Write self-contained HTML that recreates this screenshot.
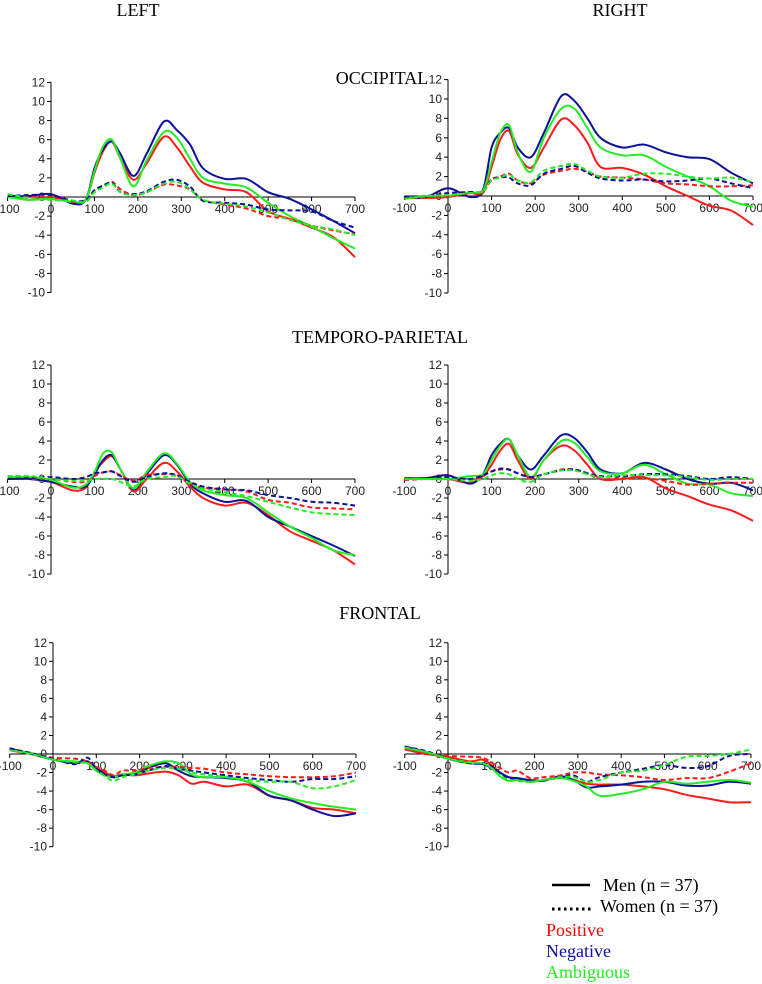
<!DOCTYPE html>
<html><head><meta charset="utf-8"><style>
body{margin:0;background:#fff;}
svg{display:block;}
.t{font-family:"Liberation Serif",serif;font-size:18px;fill:#000;}
.ax{font-family:"Liberation Sans",sans-serif;font-size:12px;fill:#222;}
</style></head><body>
<svg id="c" width="762" height="984" viewBox="0 0 762 984">
<text class="t" x="138" y="16" text-anchor="middle">LEFT</text>
<text class="t" x="620" y="16" text-anchor="middle">RIGHT</text>
<text class="t" x="382" y="84" text-anchor="middle">OCCIPITAL</text>
<text class="t" x="380" y="343" text-anchor="middle">TEMPORO-PARIETAL</text>
<text class="t" x="380" y="619" text-anchor="middle">FRONTAL</text>
<g>
<line x1="552" y1="885" x2="590" y2="885" stroke="#000" stroke-width="2.5"/>
<text class="t" x="603" y="891">Men (n = 37)</text>
<line x1="552" y1="909" x2="594" y2="909" stroke="#000" stroke-width="3" stroke-dasharray="2.5,3.5"/>
<text class="t" x="600" y="912">Women (n = 37)</text>
<text class="t" x="546" y="936" style="fill:#ff0000">Positive</text>
<text class="t" x="546" y="957" style="fill:#0b1199">Negative</text>
<text class="t" x="546" y="978" style="fill:#22ee22">Ambiguous</text>
</g>
</svg>
<script>
const times=[-100,-50,0,50,80,100,120,140,160,190,220,260,290,320,350,400,450,500,550,600,650,700];
const xTicks=[-100,0,100,200,300,400,500,600,700];
const yTicks=[12,10,8,6,4,2,0,-2,-4,-6,-8,-10];
// Occipital left
const olMenPos=[0.1,-0.3,0,-0.6,-0.3,2.5,4.8,5.8,4,1.8,3.5,6.3,5.2,3.2,1.5,0.8,0.5,-1.5,-2.3,-3.2,-4.2,-6.3];
const olMenNeg=[0.1,0.1,0.3,-0.7,-0.3,3,5,5.8,4.5,2.2,4.5,7.9,7,5.5,3,1.9,1.9,0.5,-0.2,-1.3,-2.5,-3.8];
const olMenAmb=[0,-0.3,-0.2,-0.5,-0.3,2.7,5.3,6,4,1.1,3.8,6.8,6.2,4,2,1.4,1,-0.6,-2,-3.1,-4.3,-5.4];
const olWomPos=[0.2,0,0,-0.5,-0.4,0.7,1.1,1.6,0.8,0.2,0.5,1.3,1.2,0.8,-0.3,-0.8,-1.2,-2,-2.3,-3,-3.5,-3.9];
const olWomNeg=[0.1,0.2,0.2,-0.4,-0.3,0.7,1.2,1.5,0.5,0.3,0.6,1.6,1.8,1.1,-0.4,-0.6,-0.8,-1.3,-1.4,-1.5,-2.5,-3.2];
const olWomAmb=[0.3,-0.1,-0.3,-0.4,-0.5,0.5,1,1.4,0.5,0.2,0.5,1.4,1.6,0.8,-0.3,-0.7,-1,-1.6,-2.4,-3,-3.4,-4];
// Occipital right
const orMenPos=[-0.2,-0.2,-0.1,0.3,0.3,3,5.8,6.7,4.3,2.9,5,7.9,7.3,5.5,3,2.9,2.2,1,0,-1,-1.5,-3];
const orMenNeg=[-0.2,-0.1,0.8,-0.1,0.6,5,6.5,7,5,4,6.5,10.3,9.8,8,6,5,5.3,4.5,4,3.8,2.4,1.3];
const orMenAmb=[-0.3,0,0,0.4,0.5,3.5,6.5,7.3,4.5,2.5,6,9,9,7,5,4.2,4.2,3,2,1,-0.5,-1.1];
const orWomPos=[-0.2,-0.2,0,0.3,0.4,1.7,2,2.3,1.6,1.3,2.2,2.6,2.8,2.5,2,1.9,1.7,1.3,1.2,1,1,1.1];
const orWomNeg=[-0.1,0,0.3,0.4,0.5,1.7,1.9,1.9,1.3,1.1,2.3,2.8,3.1,2.4,1.8,1.6,1.7,1.5,1.6,1.8,1.3,0.8];
const orWomAmb=[-0.3,0,0.1,0.3,0.5,1.6,1.9,2.2,1.6,1.4,2.6,3.1,3.3,2.6,2,1.9,2.3,2.3,2,1.8,1.9,1.4];
// Temporo-parietal left
const tlMenPos=[0,0,-0.3,-1.2,-0.9,0.7,1.8,2.4,1,-1.3,0,1.7,0.8,-0.8,-2,-2.8,-2.5,-3.8,-5.5,-6.5,-7.5,-9];
const tlMenNeg=[0,0,-0.3,-0.8,-0.8,0.5,2,2.5,1,-1.1,0.5,2.5,1.5,-0.5,-1.5,-2.4,-2.3,-4,-5,-6,-7,-8.1];
const tlMenAmb=[0.2,0.2,-0.1,-0.9,-0.6,0.7,2.7,2.8,1,-1,0.7,2.7,1.6,-0.3,-1.2,-1.7,-2,-3.5,-5,-6.2,-7.5,-8];
const tlWomPos=[0,0,0,-0.3,-0.3,0.3,0.7,0.8,0.4,-0.2,0.4,0.5,0.4,-0.5,-0.9,-1.1,-1.3,-2.2,-2.5,-3,-3.1,-3.2];
const tlWomNeg=[0,0.1,0.2,0,0.2,0.6,0.7,0.8,0.3,-0.3,0.2,0.6,0.4,-0.3,-0.8,-1.1,-1.2,-1.7,-2,-2.4,-2.5,-2.8];
const tlWomAmb=[0.3,0.3,0,-0.2,-0.2,0,0,0,-0.3,-0.8,0,0.2,0.3,-0.5,-1,-1.4,-1.8,-2.4,-3,-3.5,-3.7,-3.8];
// Temporo-parietal right
const trMenPos=[0,0,0,-0.4,0.3,1.5,3,3.7,2,0,2,3.5,3,1.5,0,0,0.2,-1,-1.8,-2.7,-3.3,-4.4];
const trMenNeg=[0.1,0.1,0.4,-0.5,0.5,2.5,3.7,4.2,2.5,1,2.5,4.6,4.3,2.8,1,0.6,1.7,1,0,-0.5,-0.4,-1.2];
const trMenAmb=[0,0,0,0.3,0.5,2,3.5,4.2,2.5,0.2,2,4,3.8,2.3,0.8,0.6,1.5,0.5,-0.5,-0.6,-1.5,-1.8];
const trWomPos=[-0.1,0,0,-0.2,0.3,0.8,1,1,0.6,0.2,0.5,1,1,0.6,0,0.1,0.1,-0.2,-0.6,-0.5,-0.4,-0.4];
const trWomNeg=[0,0.1,0.2,0,0.4,0.8,1.1,1,0.6,0.2,0.5,0.9,1,0.6,0.3,0.3,0.5,0.5,0.3,0,0.2,0];
const trWomAmb=[0,0,0,-0.2,0,0.4,0.6,0.5,0,-0.3,0.5,0.9,0.9,0.5,0.2,0.4,0.4,0.4,0.2,-0.1,0,0];
// Frontal left
const flMenPos=[0.4,0,-0.6,-0.9,-0.9,-1.5,-2,-2.4,-2.2,-2.3,-2.1,-1.9,-2.3,-3.2,-3,-3.5,-3.3,-4.5,-5,-5.8,-6,-6.4];
const flMenNeg=[0.6,0,-0.6,-1,-0.8,-1.5,-2.2,-2.5,-2.3,-2.1,-1.5,-1,-1.8,-2.4,-2.5,-2.6,-3,-4.5,-5,-6,-6.7,-6.4];
const flMenAmb=[0.4,0.1,-0.6,-0.8,-1,-1.8,-2.3,-2.5,-2.2,-2,-1.3,-0.8,-1,-2.2,-2.5,-2.5,-3,-4,-4.8,-5.3,-5.7,-6];
const flWomPos=[0.4,0,-0.4,-0.5,-0.8,-1.4,-1.8,-2.3,-1.8,-1.8,-1.5,-1.4,-1.4,-1.5,-1.6,-2,-2.2,-2.4,-2.5,-2.5,-2.4,-2];
const flWomNeg=[0.6,0.1,-0.5,-1.1,-0.4,-1.6,-2.2,-2.5,-2.3,-2.2,-1.8,-1.3,-1.6,-1.8,-2,-2.3,-2.6,-2.8,-3,-2.7,-2.7,-2.4];
const flWomAmb=[0.4,0,-0.6,-0.9,-1,-1.8,-2.4,-2.9,-2.5,-2.2,-1.8,-1.5,-1.6,-2,-2.2,-2.5,-2.8,-3,-3,-3.7,-3.5,-2.8];
// Frontal right
const frMenPos=[0.5,0,-0.3,-0.8,-0.6,-1.2,-2,-2.5,-2.7,-3,-2.8,-2.5,-2.8,-3.2,-3.3,-3.3,-3.5,-3.8,-4.4,-4.8,-5.2,-5.2];
const frMenNeg=[0.8,0.2,-0.5,-1,-1.1,-1.5,-2,-2.5,-2.6,-2.8,-2.9,-2.4,-2.8,-3.6,-3.5,-3.3,-3,-3,-3.4,-3.4,-3,-3.2];
const frMenAmb=[0.6,0.2,-0.5,-1,-1,-1.5,-2.4,-2.9,-2.8,-3,-2.8,-2.6,-2.9,-3.5,-4.5,-4.3,-3.8,-3,-3.2,-3,-2.8,-3.1];
const frWomPos=[0.5,0,-0.2,-0.3,-0.4,-0.9,-1.5,-2,-1.8,-2.6,-2.5,-2.3,-2,-2,-2.2,-2.3,-2.5,-2.8,-2.6,-2.6,-1.9,-1];
const frWomNeg=[0.8,0.3,-0.5,-1,-1,-1.3,-2,-2.6,-2.6,-2.9,-2.8,-2.5,-2.3,-3,-2.5,-2,-1.6,-1.2,-1.5,-1.3,-0.2,0];
const frWomAmb=[0.7,0.2,-0.5,-0.9,-1,-1.5,-2.3,-2.8,-2.9,-3,-2.8,-2.5,-2.5,-3,-2.8,-2,-1.8,-1.2,-0.3,-0.2,0,0.5];

const NS='http://www.w3.org/2000/svg';
const svg=document.getElementById('c');
const RED='#ff1a1a',BLUE='#0b1199',GREEN='#22ee22';
const panels=[
 {id:'occipital-left',x0:51,x7:355,y0:197,py:9.55,s:[olMenPos,olMenNeg,olMenAmb,olWomPos,olWomNeg,olWomAmb]},
 {id:'occipital-right',x0:448,x7:753,y0:196,py:9.7,s:[orMenPos,orMenNeg,orMenAmb,orWomPos,orWomNeg,orWomAmb]},
 {id:'temporo-parietal-left',x0:51,x7:355,y0:479,py:9.5,s:[tlMenPos,tlMenNeg,tlMenAmb,tlWomPos,tlWomNeg,tlWomAmb]},
 {id:'temporo-parietal-right',x0:448,x7:753,y0:479,py:9.5,s:[trMenPos,trMenNeg,trMenAmb,trWomPos,trWomNeg,trWomAmb]},
 {id:'frontal-left',x0:53,x7:356,y0:754,py:9.27,s:[flMenPos,flMenNeg,flMenAmb,flWomPos,flWomNeg,flWomAmb]},
 {id:'frontal-right',x0:448,x7:751,y0:754,py:9.27,s:[frMenPos,frMenNeg,frMenAmb,frWomPos,frWomNeg,frWomAmb]}
];
const colors=[RED,BLUE,GREEN,RED,BLUE,GREEN];
const snames=['men-positive','men-negative','men-ambiguous','women-positive','women-negative','women-ambiguous'];
function mk(tag,attrs,parent){const e=document.createElementNS(NS,tag);for(const k in attrs)e.setAttribute(k,attrs[k]);parent.appendChild(e);return e;}
function smooth(pts){let d='M'+pts[0][0].toFixed(1)+','+pts[0][1].toFixed(1);
 for(let i=0;i<pts.length-1;i++){const p0=pts[Math.max(0,i-1)],p1=pts[i],p2=pts[i+1],p3=pts[Math.min(pts.length-1,i+2)];
  const c1=[p1[0]+(p2[0]-p0[0])/6,p1[1]+(p2[1]-p0[1])/6],c2=[p2[0]-(p3[0]-p1[0])/6,p2[1]-(p3[1]-p1[1])/6];
  d+='C'+c1[0].toFixed(1)+','+c1[1].toFixed(1)+' '+c2[0].toFixed(1)+','+c2[1].toFixed(1)+' '+p2[0].toFixed(1)+','+p2[1].toFixed(1);}
 return d;}
panels.forEach(p=>{
 const g=mk('g',{},svg);
 
 
 const sx=t=>p.x0+(t/700)*(p.x7-p.x0);
 const sy=v=>p.y0-v*p.py;
 const ya=mk('line',{x1:p.x0,x2:p.x0,y1:sy(12),y2:sy(-10),stroke:'#000','stroke-width':1},g);
 
 
 const xa=mk('line',{x1:sx(-100),x2:sx(700),y1:p.y0,y2:p.y0,stroke:'#000','stroke-width':1},g);
 
 
 yTicks.forEach(v=>{
  mk('line',{x1:p.x0-4,x2:p.x0,y1:sy(v),y2:sy(v),stroke:'#000','stroke-width':1},g);
  const t=mk('text',{x:p.x0-6,y:sy(v)+4,'text-anchor':'end',class:'ax'},g);t.textContent=v;
  
  
 });
 xTicks.forEach(v=>{
  mk('line',{x1:sx(v),x2:sx(v),y1:p.y0,y2:p.y0+4,stroke:'#000','stroke-width':1},g);
  const t=mk('text',{x:sx(v),y:p.y0+16,'text-anchor':'middle',class:'ax'},g);t.textContent=v;
  
  
 });
 p.s.forEach((arr,i)=>{
  const pts=arr.map((v,j)=>[sx(times[j]),sy(v)]);
  const a={d:smooth(pts),fill:'none',stroke:colors[i],'stroke-width':2,'stroke-linejoin':'round'};
  if(i>=3)a['stroke-dasharray']='5,3';
  const path=mk('path',a,g);
  
  
 });
});
</script>
</body></html>
